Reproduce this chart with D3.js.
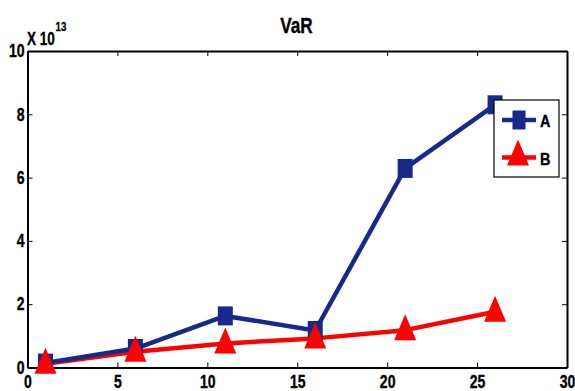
<!DOCTYPE html>
<html>
<head>
<meta charset="utf-8">
<script src="https://cdn.jsdelivr.net/npm/d3@7"></script>
<style>
  html, body { margin: 0; padding: 0; background: #fff; }
  svg text { font-family: "Liberation Sans", Arial, Helvetica, sans-serif; font-weight: bold; fill: #000; stroke: #000; stroke-width: 0.35px; }
</style>
</head>
<body>
<svg id="chart" width="575" height="391"></svg>
<script>
// Values in units of 10^13
const xValues = [1, 6, 11, 16, 21, 26];
const seriesA = [0.14, 0.6, 1.63, 1.17, 6.29, 8.3];
const seriesB = [0.12, 0.5, 0.76, 0.92, 1.18, 1.76];
const seriesNames = ["A", "B"];
const xTicks = [0, 5, 10, 15, 20, 25, 30];
const yTicks = [0, 2, 4, 6, 8, 10];
const titleText = "VaR";

const svg = d3.select("#chart");
const plotLeft = 27.5, plotRight = 567, plotTop = 51, plotBottom = 367.5;

const x = d3.scaleLinear().domain([0, 30]).range([plotLeft, plotRight]);
const y = d3.scaleLinear().domain([0, 10]).range([plotBottom, plotTop]);

const colA = "#172a8c", colB = "#ff0000";
const fs = 18;
const narrow = 0.78; // horizontal squeeze for the condensed bold lettering

// Squeeze a text horizontally around its own anchor point
function condense(sel, k) {
  sel.each(function () {
    const t = d3.select(this);
    const tx = +t.attr("x") || 0, ty = +t.attr("y") || 0;
    t.attr("transform", `translate(${tx},${ty}) scale(${k},1)`).attr("x", 0).attr("y", 0);
  });
}

// Axes (box with inward ticks on all four sides)
const axB = svg.append("g").attr("transform", `translate(0,${plotBottom})`)
  .call(d3.axisBottom(x).tickValues(xTicks).tickSizeInner(-5).tickSizeOuter(0).tickPadding(8).tickFormat(d3.format("d")));
const axL = svg.append("g").attr("transform", `translate(${plotLeft},0)`)
  .call(d3.axisLeft(y).tickValues(yTicks).tickSizeInner(-5).tickSizeOuter(0).tickPadding(3).tickFormat(d3.format("d")));
const axT = svg.append("g").attr("transform", `translate(0,${plotTop})`)
  .call(d3.axisTop(x).tickValues(xTicks).tickSizeInner(-5).tickSizeOuter(0).tickFormat(""));
const axR = svg.append("g").attr("transform", `translate(${plotRight},0)`)
  .call(d3.axisRight(y).tickValues(yTicks).tickSizeInner(-5).tickSizeOuter(0).tickFormat(""));

[axB, axL, axT, axR].forEach(g => {
  g.select(".domain").attr("stroke", "#000").attr("stroke-width", 2);
  g.selectAll(".tick line").attr("stroke", "#000").attr("stroke-width", 1);
  g.selectAll(".tick text").style("font-size", fs + "px").attr("font-family", null).attr("fill", "#000");
});
axB.selectAll(".tick text").attr("dy", "0.71em");
condense(axB.selectAll(".tick text"), narrow);
condense(axL.selectAll(".tick text"), narrow);

// Exponent label
const expo = svg.append("text").attr("x", 27).attr("y", 45).style("font-size", "18px");
expo.append("tspan").text("X 10");
expo.append("tspan").attr("dx", 1).attr("dy", -14).style("font-size", "13px").text("13");
condense(expo, 0.75);

// Title
const title = svg.append("text").attr("x", 296.5).attr("y", 32.7).attr("text-anchor", "middle")
  .style("font-size", "22px").text(titleText);
condense(title, narrow);

const plot = svg.append("g");
const line = d3.line().x((d, i) => x(xValues[i])).y(d => y(d));

// Upward triangle marker, a bit taller than wide
const triPath = "M0,-16L11,10L-11,10Z";
const sqW = 15, sqH = 19;

// Series B
plot.append("path").datum(seriesB).attr("d", line).attr("fill", "none")
  .attr("stroke", colB).attr("stroke-width", 4.5).attr("stroke-linejoin", "round");
// Series A
plot.append("path").datum(seriesA).attr("d", line).attr("fill", "none")
  .attr("stroke", colA).attr("stroke-width", 4.5).attr("stroke-linejoin", "round");

plot.selectAll("rect.mA").data(seriesA).join("rect").attr("class", "mA")
  .attr("x", (d, i) => x(xValues[i]) - sqW / 2).attr("y", d => y(d) - sqH / 2)
  .attr("width", sqW).attr("height", sqH).attr("fill", colA);

plot.selectAll("path.mB").data(seriesB).join("path").attr("class", "mB")
  .attr("transform", (d, i) => `translate(${x(xValues[i])},${y(d)})`)
  .attr("d", triPath).attr("fill", colB);

// Legend
const lg = svg.append("g");
lg.append("rect").attr("x", 494).attr("y", 100).attr("width", 65).attr("height", 77)
  .attr("fill", "#fff").attr("stroke", "#000").attr("stroke-width", 1.2);
const entries = [{ name: seriesNames[0], col: colA, yy: 120 }, { name: seriesNames[1], col: colB, yy: 157.5 }];
entries.forEach((e, i) => {
  lg.append("line").attr("x1", 502).attr("x2", 536).attr("y1", e.yy).attr("y2", e.yy)
    .attr("stroke", e.col).attr("stroke-width", 4.5);
  if (i === 0) {
    lg.append("rect").attr("x", 519 - 6.5).attr("y", e.yy - 9.5).attr("width", 13).attr("height", 19).attr("fill", e.col);
  } else {
    lg.append("path").attr("transform", `translate(518,${e.yy - 2})`).attr("d", triPath).attr("fill", e.col);
  }
  const t = lg.append("text").attr("x", 540).attr("y", e.yy + 7).style("font-size", "17px").text(e.name);
  condense(t, 0.85);
});
</script>
</body>
</html>
